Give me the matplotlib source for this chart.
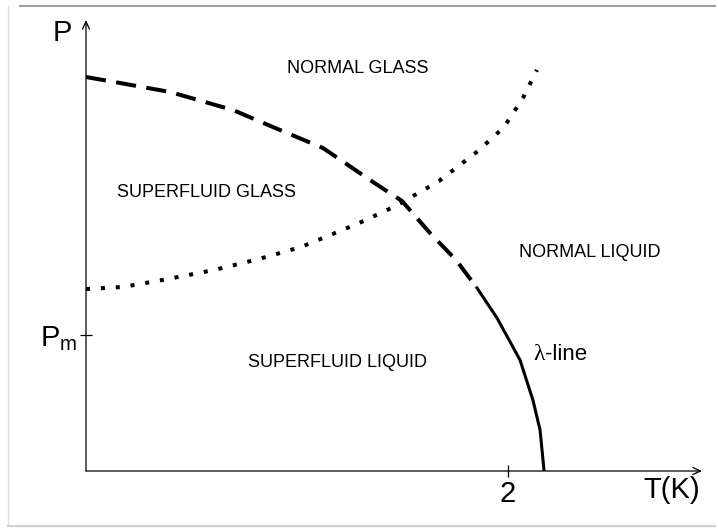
import numpy as np
import matplotlib
matplotlib.use('Agg')
from matplotlib import pyplot as plt
from matplotlib.lines import Line2D

plt.rcParams['font.family'] = ['Liberation Sans', 'DejaVu Sans']
plt.rcParams['mathtext.fontset'] = 'custom'
plt.rcParams['mathtext.rm'] = 'Liberation Sans'

# glass transition line (dashed), T in K, P in units of P_m
glass_T = [0.0, 0.161, 0.398, 0.697, 0.886, 1.123, 1.360, 1.498, 1.630, 1.754, 1.853]
glass_P = [2.897, 2.853, 2.787, 2.654, 2.529, 2.375, 2.125, 1.985, 1.750, 1.551, 1.346]

# lambda line (solid)
lambda_T = [1.853, 1.948, 2.057, 2.118, 2.152, 2.171]
lambda_P = [1.346, 1.125, 0.816, 0.522, 0.301, 0.0]

# dotted line
dot_T = [0.0, 0.175, 0.389, 0.607, 0.820, 1.019, 1.284, 1.469, 1.673, 1.858, 1.981, 2.071, 2.137]
dot_P = [1.338, 1.353, 1.412, 1.478, 1.559, 1.647, 1.816, 1.949, 2.132, 2.353, 2.529, 2.743, 2.949]

W, H = 718, 529
fig = plt.figure(figsize=(W / 100, H / 100), dpi=100)
ax = fig.add_axes([86 / W, (H - 471) / H, (702 - 86) / W, (471 - 20) / H])
ax.set_xlim(0, 616 / 211)
ax.set_ylim(0, 451 / 136)
for s in ax.spines.values():
    s.set_visible(False)
ax.patch.set_visible(False)

ax.plot(glass_T, glass_P, color='k', lw=2.9, dashes=(5, 2.6), solid_capstyle='butt',
        dash_capstyle='butt')
ax.plot(lambda_T, lambda_P, color='k', lw=2.2)
ax.plot(dot_T, dot_P, color='k', lw=2.9, dashes=(1, 2.7), dash_capstyle='butt')

# axes with arrows
arrow = dict(arrowstyle='->,head_length=0.55,head_width=0.25', lw=0.9, color='k',
             shrinkA=0, shrinkB=0)
ax.annotate('', xy=(1, 0), xytext=(0, 0), xycoords='axes fraction', arrowprops=arrow)
ax.annotate('', xy=(0, 1), xytext=(0, 0), xycoords='axes fraction', arrowprops=arrow)

ax.set_xticks([2])
ax.set_xticklabels(['2'])
ax.set_yticks([1])
ax.set_yticklabels(['P$_\\mathrm{m}$'])
ax.tick_params(direction='inout', length=9, width=0.9, labelsize=21, pad=2)

ax.text(-0.114, 3.22, 'P', fontsize=21, ha='center', va='center', clip_on=False)
ax.text(2.777, -0.14, 'T(K)', fontsize=21, ha='center', va='center', clip_on=False)

lab = dict(fontsize=13, ha='center', va='center')
ax.text(1.289, 2.963, 'NORMAL GLASS', **lab)
ax.text(0.569, 2.051, 'SUPERFLUID GLASS', **lab)
ax.text(2.389, 1.603, 'NORMAL LIQUID', **lab)
ax.text(1.194, 0.801, 'SUPERFLUID LIQUID', **lab)
ax.text(2.118, 0.860, '\u03bb', fontsize=17, family='Liberation Serif', ha='left', va='center')
ax.annotate('-line', xy=(2.118, 0.860), xytext=(9, 0), textcoords='offset points',
            fontsize=16, ha='left', va='center')

# light frame round the picture
fig.add_artist(Line2D([20 / W, 715 / W], [1 - 5.5 / H] * 2, color='#a0a0a0', lw=1.5))
fig.add_artist(Line2D([7.5 / W] * 2, [1 - 6 / H, 1 - 525 / H], color='#e0e0e0', lw=1))
fig.add_artist(Line2D([7.5 / W, 715 / W], [1 - 525.5 / H] * 2, color='#d0d0d0', lw=1.5))

fig.savefig('out.png', dpi=100)
